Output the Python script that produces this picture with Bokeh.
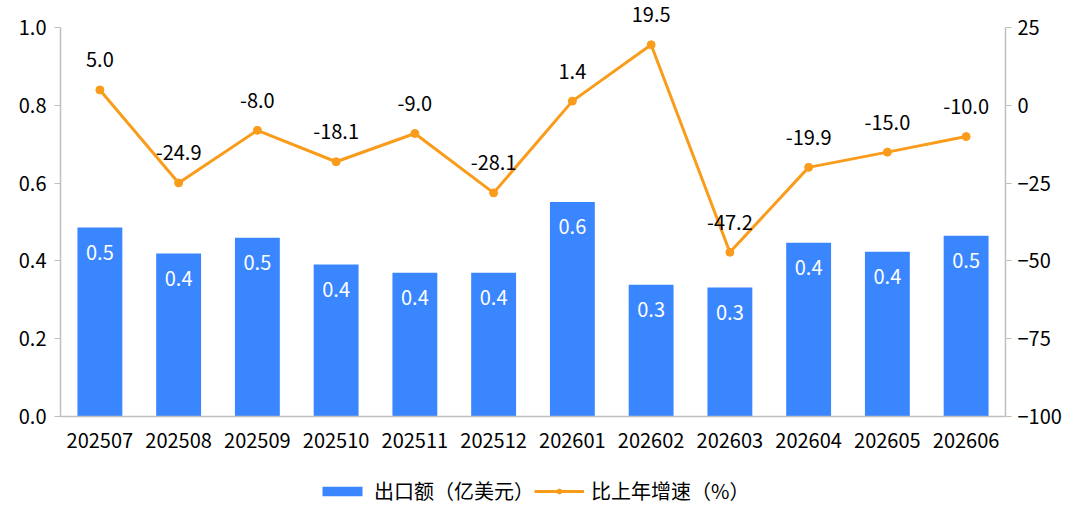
from bokeh.plotting import figure
from bokeh.layouts import column
from bokeh.models import (ColumnDataSource, Range1d, LinearAxis, Legend, LegendItem,
                          FixedTicker, PrintfTickFormatter, LabelSet)
from bokeh.embed import file_html
from bokeh.resources import INLINE
from bokeh.core.properties import value

months = ["202507", "202508", "202509", "202510", "202511", "202512",
          "202601", "202602", "202603", "202604", "202605", "202606"]
export = [0.486, 0.419, 0.460, 0.391, 0.370, 0.370, 0.552, 0.339, 0.332, 0.447, 0.424, 0.465]
growth = [5.0, -24.9, -8.0, -18.1, -9.0, -28.1, 1.4, 19.5, -47.2, -19.9, -15.0, -10.0]
left_ticks = [0.0, 0.2, 0.4, 0.6, 0.8, 1.0]
right_ticks = [-100, -75, -50, -25, 0, 25]
series_names = ["出口额（亿美元）", "比上年增速（%）"]

BAR = "#3A86FF"
LINE = "#FA9C1B"
AX = "#BFBFBF"
FONT = "Noto Sans CJK SC"
FS = "20px"

src = ColumnDataSource(dict(
    month=months, export=export, growth=growth,
    elab=[f"{v:.1f}" for v in export],
    glab=[f"{v:.1f}" for v in growth],
))

# frame extends above the 1.0 / 25 tick so the top data label is not clipped
TOP = 1.07
p = figure(x_range=months, y_range=Range1d(0, TOP), width=1080, height=470,
           output_backend="svg", toolbar_location=None,
           min_border_left=60, min_border_right=75, min_border_top=0, min_border_bottom=54)
p.extra_y_ranges = {"g": Range1d(-100, -100 + 125 * TOP)}
p.outline_line_color = None
p.xgrid.grid_line_color = None
p.ygrid.grid_line_color = None
p.x_range.range_padding = 0.0

bars = p.vbar(x="month", top="export", width=0.57, source=src, fill_color=BAR, line_color=None)
ln = p.line(x="month", y="growth", source=src, y_range_name="g", line_color=LINE, line_width=3)
pts = p.scatter(x="month", y="growth", source=src, y_range_name="g", size=8,
                fill_color=LINE, line_color=LINE)

def style_axis(ax, standoff):
    ax.minor_tick_line_color = None
    ax.major_tick_in = 0
    ax.major_tick_out = 6
    ax.axis_line_color = AX
    ax.major_tick_line_color = AX
    ax.axis_line_width = 1.5
    ax.major_label_text_font = FONT
    ax.major_label_text_font_size = FS
    ax.major_label_text_color = "#000000"
    ax.major_label_standoff = standoff

ya = p.yaxis[0]
ya.ticker = FixedTicker(ticks=left_ticks)
ya.formatter = PrintfTickFormatter(format="%.1f")
ya.bounds = (0, 1.0)
style_axis(ya, 8)

ra = LinearAxis(y_range_name="g", ticker=FixedTicker(ticks=right_ticks), bounds=(-100, 25))
style_axis(ra, 6)
p.add_layout(ra, "right")

xa = p.xaxis[0]
style_axis(xa, 16)
xa.major_tick_line_color = None
xa.major_tick_out = 0

bl = LabelSet(x="month", y="export", text="elab", source=src, text_align="center",
              text_baseline="middle", y_offset=-25, text_color="white",
              text_font=value(FONT), text_font_size=FS)
gl = LabelSet(x="month", y="growth", text="glab", source=src, y_range_name="g",
              text_align="center", text_baseline="middle", y_offset=30, text_color="#000000",
              text_font=value(FONT), text_font_size=FS)
p.add_layout(bl)
p.add_layout(gl)

# Legend strip below the chart
lg = figure(width=1080, height=54, x_range=(0, 1), y_range=(0, 1),
            x_axis_location=None, y_axis_location=None,
            output_backend="svg", toolbar_location=None,
            min_border_left=0, min_border_right=0, min_border_top=0, min_border_bottom=0)
lg.xgrid.grid_line_color = None
lg.ygrid.grid_line_color = None
lg.outline_line_color = None
lb = lg.vbar(x=[-10], top=[-10], width=0.5, fill_color=BAR, line_color=None)
ll = lg.line(x=[-10, -11], y=[-10, -10], line_color=LINE, line_width=3)
lp = lg.scatter(x=[-10], y=[-10], size=8, fill_color=LINE, line_color=LINE)

legend = Legend(items=[LegendItem(label=series_names[0], renderers=[lb]),
                       LegendItem(label=series_names[1], renderers=[ll, lp])],
                orientation="horizontal", location=(257, 19),
                glyph_width=50, glyph_height=12, label_text_font=FONT,
                label_text_font_size="20px", label_text_color="#000000",
                border_line_color=None, background_fill_alpha=0,
                spacing=0, label_standoff=7, margin=0, padding=4)
lg.add_layout(legend, "center")

layout = column(p, lg, spacing=0)
open("out.html", "w").write(file_html(layout, INLINE))
